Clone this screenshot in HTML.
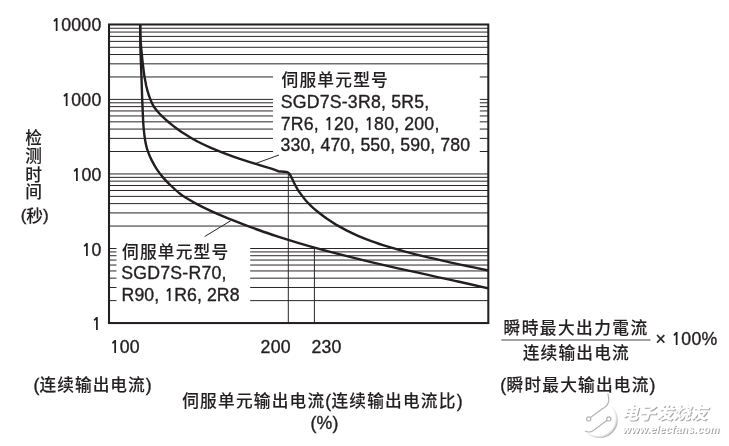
<!DOCTYPE html>
<html lang="zh"><head><meta charset="utf-8"><title>chart</title>
<style>
html,body{margin:0;padding:0;background:#fff;}
body{width:729px;height:446px;overflow:hidden;}
svg{display:block;}
text{font-family:"Liberation Sans","Noto Sans CJK SC",sans-serif;fill:#231f20;}
.c{font-weight:500;stroke:#231f20;stroke-width:0.1px;}
.l{stroke:#231f20;stroke-width:0.36px;}
.n{font-family:"NanumGothic","Liberation Sans",sans-serif;font-weight:bold;stroke:none;}
.wm{font-family:"Liberation Sans","Noto Sans CJK SC",sans-serif;}
</style></head><body>
<svg width="729" height="446" viewBox="0 0 729 446">
<rect width="729" height="446" fill="#fff"/>
<path d="M109.0 300.61H116.5M250.2 300.61H488.3M109.0 287.48H116.5M250.2 287.48H488.3M109.0 278.17H116.5M250.2 278.17H488.3M109.0 270.94H116.5M250.2 270.94H488.3M109.0 265.04H116.5M250.2 265.04H488.3M109.0 260.05H116.5M250.2 260.05H488.3M109.0 255.72H116.5M250.2 255.72H488.3M109.0 251.91H116.5M250.2 251.91H488.3M109.0 248.50H116.5M250.2 248.50H488.3M109.0 226.06H488.3M109.0 212.93H488.3M109.0 203.62H488.3M109.0 196.39H488.3M109.0 190.49H488.3M109.0 185.50H488.3M109.0 181.17H488.3M109.0 177.36H488.3M109.0 173.95H488.3M109.0 151.51H273.0M479.8 151.51H488.3M109.0 138.38H273.0M479.8 138.38H488.3M109.0 129.07H273.0M479.8 129.07H488.3M109.0 121.84H273.0M479.8 121.84H488.3M109.0 115.94H273.0M479.8 115.94H488.3M109.0 110.95H273.0M479.8 110.95H488.3M109.0 106.62H273.0M479.8 106.62H488.3M109.0 102.81H273.0M479.8 102.81H488.3M109.0 99.40H273.0M479.8 99.40H488.3M109.0 76.96H273.0M479.8 76.96H488.3M109.0 63.83H488.3M109.0 54.52H488.3M109.0 47.29H488.3M109.0 41.39H488.3M109.0 36.40H488.3M109.0 32.07H488.3M109.0 28.26H488.3" fill="none" stroke="#2a2627" stroke-width="1"/>
<path d="M288.3 173.5V323.05M314.4 248.5V323.05" fill="none" stroke="#2a2627" stroke-width="1"/>
<path d="M279 155L255.3 163.6M230.8 220.7L204.7 236.5" fill="none" stroke="#2a2627" stroke-width="1"/>
<path d="M140.2 24.5C140.2 25.5 140.2 28.6 140.2 30.6C140.2 32.7 140.3 34.7 140.4 36.7C140.5 38.8 140.7 40.8 140.8 42.9C141.0 44.9 141.1 46.9 141.3 49.0C141.5 51.0 141.7 53.0 141.9 55.1C142.1 57.1 142.3 59.2 142.5 61.2C142.7 63.2 143.0 65.3 143.2 67.3C143.5 69.3 143.7 71.4 144.0 73.4C144.3 75.5 144.6 77.5 145.0 79.5C145.4 81.6 145.8 83.6 146.2 85.7C146.7 87.7 147.2 89.7 147.8 91.8C148.4 93.8 149.0 95.7 149.8 97.9C150.6 100.0 151.8 102.9 152.7 104.6C153.6 106.4 154.1 107.1 155.0 108.3C155.9 109.5 156.8 110.7 158.0 112.0C159.2 113.3 160.7 114.8 162.0 116.1C163.3 117.4 164.5 118.5 166.0 119.8C167.5 121.1 169.2 122.6 171.0 124.1C172.8 125.6 174.8 127.1 177.0 128.7C179.2 130.3 181.5 132.0 184.0 133.6C186.5 135.2 189.2 136.9 192.0 138.5C194.8 140.1 197.8 141.7 201.0 143.3C204.2 144.9 207.5 146.4 211.0 147.9C214.5 149.4 218.2 150.9 222.0 152.4C225.8 153.9 230.0 155.4 234.0 156.8C238.0 158.2 242.0 159.5 246.0 160.8C250.0 162.1 254.3 163.4 258.0 164.6C261.7 165.7 265.2 166.8 268.0 167.7C270.8 168.5 273.2 169.2 275.0 169.8C276.8 170.4 277.2 171.0 278.6 171.3C280.0 171.6 282.1 171.5 283.5 171.7C284.9 171.8 286.2 171.8 287.2 172.2C288.2 172.6 288.9 173.1 289.6 174.0C290.3 174.9 290.8 175.9 291.5 177.4C292.2 178.9 293.1 181.0 294.0 182.8C294.9 184.6 295.9 186.5 297.0 188.3C298.1 190.2 299.2 191.8 300.7 193.9C302.2 196.0 304.1 198.6 306.0 200.8C307.9 202.9 309.8 204.8 312.0 206.8C314.2 208.8 316.5 210.8 319.0 212.8C321.5 214.8 324.2 216.8 327.0 218.8C329.8 220.7 332.8 222.7 336.0 224.6C339.2 226.4 342.3 228.2 346.0 230.1C349.7 232.0 353.7 233.9 358.0 235.8C362.3 237.6 367.0 239.5 372.0 241.3C377.0 243.2 382.3 244.9 388.0 246.7C393.7 248.4 399.7 250.1 406.0 251.8C412.3 253.5 419.3 255.3 426.0 256.9C432.7 258.5 439.2 259.9 446.0 261.4C452.8 263.0 459.9 264.5 467.0 266.0C474.1 267.5 484.8 269.8 488.3 270.5" fill="none" stroke="#231f20" stroke-width="2.4" stroke-linejoin="round"/>
<path d="M140.2 24.5C140.2 27.6 140.2 37.0 140.3 43.2C140.4 49.4 140.7 55.7 140.9 61.9C141.1 68.1 141.4 74.4 141.6 80.6C141.8 86.8 142.0 93.1 142.2 99.3C142.5 105.5 142.8 113.7 143.0 118.0C143.2 122.3 143.2 122.0 143.4 125.0C143.6 128.0 144.1 132.4 144.5 135.8C144.9 139.2 145.5 142.5 146.1 145.2C146.7 147.9 147.2 149.4 148.1 151.9C149.0 154.4 150.0 157.0 151.5 159.9C153.0 162.8 154.9 166.4 156.9 169.4C158.9 172.4 161.4 175.5 163.6 178.1C165.8 180.7 167.6 182.4 170.3 185.0C173.0 187.6 177.1 191.5 180.0 193.8C182.9 196.1 185.2 197.3 188.0 199.0C190.8 200.7 193.8 202.4 197.0 204.1C200.2 205.8 203.5 207.5 207.0 209.1C210.5 210.8 214.2 212.5 218.0 214.2C221.8 215.8 225.7 217.5 230.0 219.2C234.3 221.0 239.0 222.8 244.0 224.7C249.0 226.6 254.3 228.5 260.0 230.5C265.7 232.5 271.7 234.5 278.0 236.6C284.3 238.6 291.0 240.7 298.0 242.8C305.0 244.9 312.3 247.0 320.0 249.1C327.7 251.2 335.7 253.3 344.0 255.4C352.3 257.5 361.0 259.6 370.0 261.8C379.0 263.9 388.3 266.1 398.0 268.3C407.7 270.5 418.0 272.7 428.0 274.9C438.0 277.2 447.9 279.3 458.0 281.5C468.1 283.8 483.2 287.2 488.3 288.3" fill="none" stroke="#231f20" stroke-width="2.4" stroke-linejoin="round"/>
<rect x="109.0" y="24.5" width="379.3" height="298.55" fill="none" stroke="#231f20" stroke-width="2.05"/>
<text id="t0" y="30.9" ><tspan class="n" x="51.30" font-size="16.6">1</tspan><tspan class="l" x="61.25" font-size="17.7" letter-spacing="0.22">0000</tspan></text>
<text id="t1" y="106" ><tspan class="n" x="61.37" font-size="16.6">1</tspan><tspan class="l" x="71.31" font-size="17.7" letter-spacing="0.22">000</tspan></text>
<text id="t2" y="180.5" ><tspan class="n" x="71.43" font-size="16.6">1</tspan><tspan class="l" x="81.38" font-size="17.7" letter-spacing="0.22">00</tspan></text>
<text id="t3" y="255.6" ><tspan class="n" x="81.47" font-size="16.6">1</tspan><tspan class="l" x="91.42" font-size="17.7" letter-spacing="0.22">0</tspan></text>
<text id="t4" y="330" ><tspan class="n" x="91.54" font-size="16.6">1</tspan></text>
<text id="t5" x="33.5" y="143.9" text-anchor="middle" ><tspan class="c" font-size="16.7" letter-spacing="0">检</tspan></text>
<text id="t6" x="33.5" y="162.1" text-anchor="middle" ><tspan class="c" font-size="16.7" letter-spacing="0">测</tspan></text>
<text id="t7" x="33.5" y="180.8" text-anchor="middle" ><tspan class="c" font-size="16.7" letter-spacing="0">时</tspan></text>
<text id="t8" x="33.5" y="197.6" text-anchor="middle" ><tspan class="c" font-size="16.7" letter-spacing="0">间</tspan></text>
<text x="34.7" y="221.4" text-anchor="middle"><tspan class="l" font-size="17">(</tspan><tspan class="c" font-size="16.7" dy="0.9">秒</tspan><tspan class="l" font-size="17" dy="-0.9">)</tspan></text>
<text id="t9" y="352.8" ><tspan class="n" x="109.70" font-size="16.6">1</tspan><tspan class="l" x="119.65" font-size="17.7" letter-spacing="0.22">00</tspan></text>
<text id="t10" x="260.6" y="352.8" text-anchor="start" ><tspan class="l" font-size="17.7" letter-spacing="0.22">200</tspan></text>
<text id="t11" x="311.4" y="352.8" text-anchor="start" ><tspan class="l" font-size="17.7" letter-spacing="0.22">230</tspan></text>
<text id="t12" x="33.5" y="391.4" text-anchor="start" ><tspan class="l" font-size="17.7" letter-spacing="0.2">(</tspan><tspan class="c" font-size="16.7" letter-spacing="1.0">连续输出电流</tspan><tspan class="l" font-size="17.7" letter-spacing="0.2">)</tspan></text>
<text id="t13" x="322.5" y="406.9" text-anchor="middle" ><tspan class="c" font-size="16.7" letter-spacing="1.2">伺服单元输出电流</tspan><tspan class="l" font-size="17.7" letter-spacing="0.2">(</tspan><tspan class="c" font-size="16.7" letter-spacing="1.2">连续输出电流比</tspan><tspan class="l" font-size="17.7" letter-spacing="0.2">)</tspan></text>
<text id="t14" x="324.5" y="429" text-anchor="middle" ><tspan class="l" font-size="17.7" letter-spacing="0.22">(%)</tspan></text>
<text id="t15" x="500.3" y="391.4" text-anchor="start" ><tspan class="l" font-size="17.7" letter-spacing="0.3">(</tspan><tspan class="c" font-size="16.7" letter-spacing="1.2">瞬时最大输出电流</tspan><tspan class="l" font-size="17.7" letter-spacing="0.3">)</tspan></text>
<text id="t16" x="576.1" y="333.9" text-anchor="middle" ><tspan class="c" font-size="16.7" letter-spacing="1.45">瞬時最大出力電流</tspan></text>
<path d="M501.3 340H650.5" stroke="#4a4647" stroke-width="1.1" fill="none"/>
<text id="t17" x="576.3" y="359.4" text-anchor="middle" ><tspan class="c" font-size="16.7" letter-spacing="1.2">连续输出电流</tspan></text>
<text id="t18" y="345.3" ><tspan class="l" x="655.60" font-size="17.7" letter-spacing="0.22">× </tspan><tspan class="n" x="671.37" font-size="16.6">1</tspan><tspan class="l" x="681.33" font-size="17.7" letter-spacing="0.22">00%</tspan></text>
<text id="t19" x="281.6" y="85.6" text-anchor="start" ><tspan class="c" font-size="16.7" letter-spacing="1.2">伺服单元型号</tspan></text>
<text id="t20" x="280.7" y="107.8" text-anchor="start" ><tspan class="l" font-size="17.7" letter-spacing="0.22">SGD7S-3R8, 5R5,</tspan></text>
<text id="t21" y="129.8" ><tspan class="l" x="280.70" font-size="17.7" letter-spacing="0.18">7R6, </tspan><tspan class="n" x="323.97" font-size="16.6">1</tspan><tspan class="l" x="333.89" font-size="17.7" letter-spacing="0.18">20, </tspan><tspan class="n" x="364.21" font-size="16.6">1</tspan><tspan class="l" x="374.12" font-size="17.7" letter-spacing="0.18">80, 200,</tspan></text>
<text id="t22" x="280.5" y="150.6" text-anchor="start" ><tspan class="l" font-size="17.7" letter-spacing="0.12">330, 470, 550, 590, 780</tspan></text>
<text id="t23" x="122.0" y="257.5" text-anchor="start" ><tspan class="c" font-size="16.7" letter-spacing="1.2">伺服单元型号</tspan></text>
<text id="t24" x="121.3" y="278.7" text-anchor="start" ><tspan class="l" font-size="17.7" letter-spacing="0.22">SGD7S-R70,</tspan></text>
<text id="t25" y="300.5" ><tspan class="l" x="121.60" font-size="17.7" letter-spacing="0.08">R90, </tspan><tspan class="n" x="164.37" font-size="16.6">1</tspan><tspan class="l" x="174.18" font-size="17.7" letter-spacing="0.08">R6, 2R8</tspan></text>
<defs><radialGradient id="wg" cx="0.45" cy="0.45" r="0.575">
<stop offset="0" stop-color="#fff"/><stop offset="0.83" stop-color="#fff"/><stop offset="0.92" stop-color="#d2d2d2"/><stop offset="1" stop-color="#989898"/>
</radialGradient></defs>
<circle cx="599.6" cy="420.0" r="18.1" fill="url(#wg)"/>
<path d="M608 393.2C608.2 397 609.3 399.6 608.6 402C607.8 404.6 606 406.6 604.3 407.7C603.4 408.3 602.8 408.3 602 408.9L590.5 417.5" fill="none" stroke="#b4b4b4" stroke-width="1.2"/>
<path d="M607.1 420.3L593.4 430.6C591 432.3 588 432.4 585 431" fill="none" stroke="#b4b4b4" stroke-width="1.2"/>
<circle cx="588.7" cy="418.9" r="2.1" fill="#fff" stroke="#b4b4b4" stroke-width="1.2"/>
<circle cx="608.8" cy="418.9" r="2.1" fill="#fff" stroke="#b4b4b4" stroke-width="1.2"/>
<filter id="bl" x="-5%" y="-20%" width="110%" height="150%"><feGaussianBlur stdDeviation="0.55"/></filter>
<g transform="translate(1.0 1.1)" filter="url(#bl)"><text class="wm" x="621.2" y="418.6" font-size="17" font-style="italic" font-weight="900" letter-spacing="0.35" style="fill:#a6a6a6">电子发烧友</text><text class="wm" x="622.8" y="432.8" font-size="10.4" font-style="italic" font-weight="bold" letter-spacing="0.26" style="fill:#a6a6a6">www.elecfans.com</text></g>
<g transform="translate(0 0)"><text class="wm" x="621.2" y="418.6" font-size="17" font-style="italic" font-weight="900" letter-spacing="0.35" style="fill:#ffffff">电子发烧友</text><text class="wm" x="622.8" y="432.8" font-size="10.4" font-style="italic" font-weight="bold" letter-spacing="0.26" style="fill:#ffffff">www.elecfans.com</text></g>
</svg>
</body></html>
